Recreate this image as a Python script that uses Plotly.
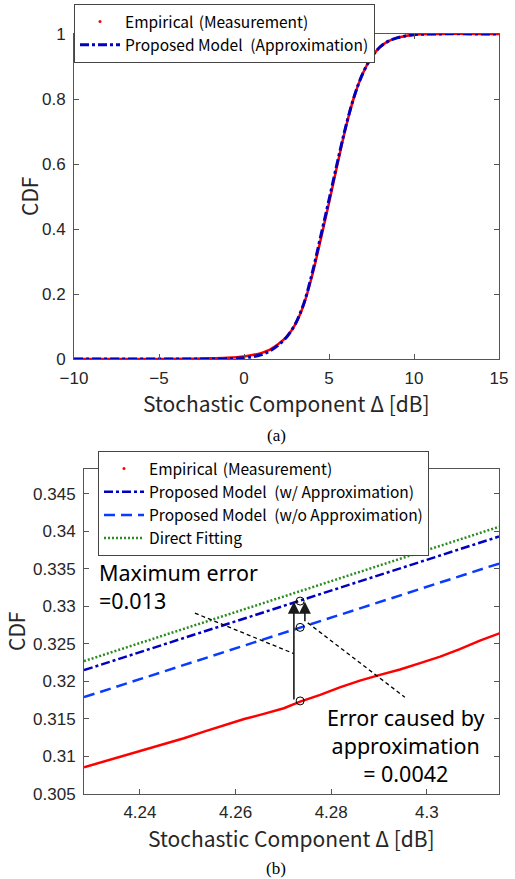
import plotly.graph_objects as go

W, H = 515, 879

# ---------------- data: panel (a) ----------------
top_x = [-10, -5, -3, -2, -1, 0, 0.5, 1, 1.5, 2, 2.5, 3, 3.5, 4, 4.5, 5, 5.5, 6, 6.5, 7, 7.5, 8, 8.5, 9, 9.5,
         10, 11, 15]
emp_cdf = [0, 0, 0.001, 0.002, 0.004, 0.008, 0.012, 0.018, 0.028, 0.045, 0.068, 0.105, 0.165, 0.255, 0.365,
           0.48, 0.6, 0.715, 0.81, 0.88, 0.928, 0.96, 0.978, 0.988, 0.994, 0.998, 1, 1]
model_cdf = [0, 0, 0.0, 0.0, 0.001, 0.004, 0.007, 0.013, 0.024, 0.042, 0.067, 0.106, 0.168, 0.262, 0.375,
             0.49, 0.607, 0.718, 0.811, 0.88, 0.928, 0.96, 0.978, 0.988, 0.994, 0.998, 1, 1]
top_xticks = [-10, -5, 0, 5, 10, 15]
top_xticktext = ["\u221210", "\u22125", "0", "5", "10", "15"]
top_yticks = [0, 0.2, 0.4, 0.6, 0.8, 1]
top_yticktext = ["0", "0.2", "0.4", "0.6", "0.8", "1"]

# ---------------- data: panel (b) ----------------
zoom_x = [4.2283, 4.2325, 4.2367, 4.2408, 4.2450, 4.2492, 4.2534, 4.2576, 4.2618, 4.2659, 4.2701, 4.2735,
          4.2777, 4.2818, 4.2860, 4.2902, 4.2944, 4.2986, 4.3028, 4.3069, 4.3111, 4.3153]
emp_zoom = [0.30856, 0.30933, 0.31010, 0.31087, 0.31167, 0.31243, 0.31331, 0.31420, 0.31499, 0.31567, 0.31643,
            0.31731, 0.31820, 0.31921, 0.32010, 0.32087, 0.32158, 0.32243, 0.32331, 0.32429, 0.32543, 0.32643]
line_x = [4.2283, 4.3151]
approx_w = [0.3215, 0.3393]
approx_wo = [0.3179, 0.3357]
direct_fit = [0.3227, 0.3406]
mark_x = [4.2735, 4.2735, 4.2735]
mark_y = [0.3174, 0.3272, 0.3307]
bot_xticks = [4.24, 4.26, 4.28, 4.3]
bot_xticktext = ["4.24", "4.26", "4.28", "4.3"]
bot_yticks = [0.305, 0.31, 0.315, 0.32, 0.325, 0.33, 0.335, 0.34, 0.345]
bot_yticktext = ["0.305", "0.31", "0.315", "0.32", "0.325", "0.33", "0.335", "0.34", "0.345"]

# annotation geometry (data coords of panel b)
long_arrow = dict(x=4.2722, y0=0.3174, y1=0.3306)
short_arrow = dict(x=4.2745, y0=0.3278, y1=0.3306)
lead1 = [(4.2515, 0.3291), (4.2722, 0.3237)]
lead2 = [(4.2751, 0.3278), (4.2954, 0.3179)]

RED = "#ff0000"
NAVY = "#0000c0"
BLUE = "#0a3cff"
GREEN = "#2b8c1f"
AX = "#555555"
TXT = "#262626"
JP = "Noto Sans CJK JP"
TICKF = "Liberation Sans"


def px_x(p):
    return p / W


def px_y(p):
    return 1 - p / H


fig = go.Figure()

# panel (a)
fig.add_trace(go.Scatter(x=[None], y=[None], mode="markers", marker=dict(color=RED, size=3),
                         name="Empirical\u2004(Measurement)", legend="legend", xaxis="x", yaxis="y"))
fig.add_trace(go.Scatter(x=top_x, y=emp_cdf, mode="lines", line=dict(color=RED, width=2.5, shape="spline"),
                         showlegend=False, xaxis="x", yaxis="y"))
fig.add_trace(go.Scatter(x=top_x, y=model_cdf, mode="lines",
                         line=dict(color=NAVY, width=3, dash="9px,3px,3px,3px", shape="spline"),
                         name="Proposed Model\u2002(Approximation)", legend="legend", xaxis="x", yaxis="y"))

# panel (b)
fig.add_trace(go.Scatter(x=[None], y=[None], mode="markers", marker=dict(color=RED, size=3),
                         name="Empirical\u2004(Measurement)", legend="legend2", xaxis="x2", yaxis="y2"))
fig.add_trace(go.Scatter(x=zoom_x, y=emp_zoom, mode="lines", line=dict(color=RED, width=2.5),
                         showlegend=False, xaxis="x2", yaxis="y2"))
fig.add_trace(go.Scatter(x=line_x, y=approx_w, mode="lines",
                         line=dict(color=NAVY, width=2.5, dash="9px,3px,3px,3px"),
                         name="Proposed Model\u2002(w/ Approximation)", legend="legend2",
                         xaxis="x2", yaxis="y2"))
fig.add_trace(go.Scatter(x=line_x, y=approx_wo, mode="lines",
                         line=dict(color=BLUE, width=2.5, dash="11px,6px"),
                         name="Proposed Model\u2002(w/o Approximation)", legend="legend2",
                         xaxis="x2", yaxis="y2"))
fig.add_trace(go.Scatter(x=line_x, y=direct_fit, mode="lines",
                         line=dict(color=GREEN, width=2.5, dash="2px,2px"),
                         name="Direct Fitting", legend="legend2", xaxis="x2", yaxis="y2"))
fig.add_trace(go.Scatter(x=mark_x, y=mark_y, mode="markers",
                         marker=dict(symbol="circle-open", size=8, color="black", line=dict(width=1)),
                         showlegend=False, xaxis="x2", yaxis="y2"))

axis_common = dict(showline=True, linecolor=AX, linewidth=1, mirror="ticks", ticks="inside", ticklen=5,
                   tickcolor=AX, showgrid=False, zeroline=False, automargin=False,
                   tickfont=dict(family=TICKF, size=17, color=TXT))

leg_common = dict(xanchor="left", yanchor="top", bgcolor="white", bordercolor="#444444", borderwidth=1,
                  font=dict(family=JP, size=15.5, color="black"), itemwidth=40, tracegroupgap=0)

fig.update_layout(
    width=W, height=H, margin=dict(l=0, r=0, t=0, b=0, autoexpand=False),
    paper_bgcolor="white", plot_bgcolor="white", showlegend=True,
    xaxis=dict(domain=[px_x(74), px_x(499)], anchor="y", range=[-10, 15], ticklabelstandoff=4,
               tickvals=top_xticks, ticktext=top_xticktext, **axis_common),
    yaxis=dict(domain=[px_y(359), px_y(34)], anchor="x", range=[0, 1],
               tickvals=top_yticks, ticktext=top_yticktext, ticklabelstandoff=4, **axis_common),
    xaxis2=dict(domain=[px_x(84), px_x(499)], anchor="y2", range=[4.2283, 4.3151], ticklabelstandoff=3,
                tickvals=bot_xticks, ticktext=bot_xticktext, **axis_common),
    yaxis2=dict(domain=[px_y(794), px_y(469)], anchor="x2", range=[0.305, 0.3483],
                tickvals=bot_yticks, ticktext=bot_yticktext, ticklabelstandoff=4, **axis_common),
    legend=dict(x=px_x(74), y=px_y(4), **leg_common),
    legend2=dict(x=px_x(98), y=px_y(451), **leg_common),
)

ann = []
# axis titles
ann.append(dict(text="Stochastic Component \u0394 [dB]", xref="paper", yref="paper", x=px_x(286.5), y=px_y(403),
                xanchor="center", yanchor="middle", showarrow=False, font=dict(family=JP, size=21, color=TXT)))
ann.append(dict(text="Stochastic Component \u0394 [dB]", xref="paper", yref="paper", x=px_x(291), y=px_y(838),
                xanchor="center", yanchor="middle", showarrow=False, font=dict(family=JP, size=21, color=TXT)))
ann.append(dict(text="CDF", xref="paper", yref="paper", x=px_x(29), y=px_y(197), textangle=-90,
                xanchor="center", yanchor="middle", showarrow=False, font=dict(family=JP, size=21, color=TXT)))
ann.append(dict(text="CDF", xref="paper", yref="paper", x=px_x(16), y=px_y(632), textangle=-90,
                xanchor="center", yanchor="middle", showarrow=False, font=dict(family=JP, size=21, color=TXT)))
ann.append(dict(text="(a)", xref="paper", yref="paper", x=px_x(276), y=px_y(435),
                xanchor="center", yanchor="middle", showarrow=False,
                font=dict(family="Liberation Serif", size=17, color="black")))
ann.append(dict(text="(b)", xref="paper", yref="paper", x=px_x(276), y=px_y(868),
                xanchor="center", yanchor="middle", showarrow=False,
                font=dict(family="Liberation Serif", size=17, color="black")))
# explanatory text
ann.append(dict(text="Maximum error<br>=0.013", xref="paper", yref="paper", x=px_x(97), y=px_y(586),
                xanchor="left", yanchor="middle", align="left", showarrow=False,
                font=dict(family="Noto Sans", size=21.5, color="black")))
ann.append(dict(text="Error caused by<br>approximation<br>= 0.0042", xref="paper", yref="paper", x=px_x(405),
                y=px_y(745), xanchor="center", yanchor="middle", align="center", showarrow=False,
                font=dict(family="Noto Sans", size=21.5, color="black")))
# arrows
for a in (long_arrow, short_arrow):
    ann.append(dict(x=a["x"], y=a["y1"], ax=a["x"], ay=a["y0"], xref="x2", yref="y2", axref="x2", ayref="y2",
                    text="", showarrow=True, arrowhead=2, arrowsize=1.5, arrowwidth=1.6, arrowcolor="#1a1a1a"))
fig.update_layout(annotations=ann)

for seg in (lead1, lead2):
    fig.add_shape(type="line", xref="x2", yref="y2", x0=seg[0][0], y0=seg[0][1], x1=seg[1][0], y1=seg[1][1],
                  line=dict(color="black", width=1.3, dash="4px,3px"))

fig.write_html("out.html")
